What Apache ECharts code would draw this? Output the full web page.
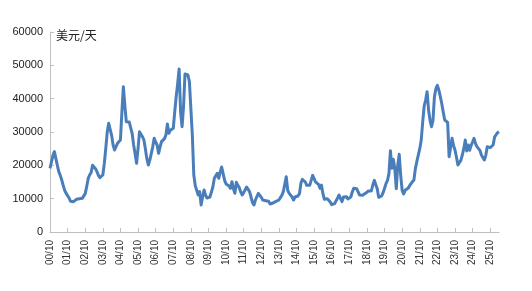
<!DOCTYPE html>
<html>
<head>
<meta charset="utf-8">
<script src="https://cdn.jsdelivr.net/npm/echarts@6/dist/echarts.min.js"></script>
<style>
html,body{margin:0;padding:0;background:#fff;}
#chart{width:532px;height:291px;}
</style>
</head>
<body>
<div id="chart"></div>
<script>
// Tick labels (year/month), one per October
var tickLabels = ['00/10','01/10','02/10','03/10','04/10','05/10','06/10','07/10','08/10','09/10','10/10','11/10','12/10','13/10','14/10','15/10','16/10','17/10','18/10','19/10','20/10','21/10','22/10','23/10','24/10','25/10'];
var unitLabel = '美元/天';
// Monthly rates, Oct 2000 .. Apr 2026 (USD/day), each row Oct..Sep
var rates = [
 19100,21000,23000,24100,22000,20000,18100,17000,15600,14000,12500,11600,
 11100,10200,9200,9100,9100,9400,9800,9900,10000,10000,10100,10100,
 11500,13600,16000,17100,17800,20000,20200,19000,18100,17000,16300,16500,
 17100,20500,25000,30000,32600,32900,29000,26100,24600,24300,26600,27000,
 27600,36000,43600,38000,33100,33000,33000,32900,29500,26100,23500,20600,
 25000,30100,29500,28600,27600,25000,22000,20100,21500,23500,25500,28100,
 27000,26100,23600,25500,27100,26600,28000,29100,32400,29600,30500,30900,
 31100,36000,40600,44500,48900,36000,31600,37600,47400,47400,47100,45100,
 37000,29100,17100,13900,14100,11100,12100,8100,10500,12600,11000,10200,
 9900,10500,11100,13500,16100,16500,17600,16100,18000,19500,17500,15500,
 14400,14100,13800,13100,15100,13000,11600,14900,14000,13300,12000,11100,
 11800,12100,13500,13200,12100,10500,8800,8100,9600,10600,11600,11000,
 10400,9600,9100,9400,9900,9200,8400,7900,8700,9300,9200,9100,
 9600,9800,11000,12100,12600,16600,12500,11600,12100,10500,9600,10500,
 11100,10800,11500,14600,15800,15200,15000,14000,13700,14000,14300,17000,
 17000,15000,14500,14300,13100,14100,11500,9800,9900,10000,9400,9000,
 8200,7600,8500,9400,10200,11100,10000,9100,10500,11100,10600,9900,
 10000,10500,12000,13100,13500,13000,12000,11100,11000,11000,11300,11600,
 12000,12300,12300,12300,14100,15500,16100,13000,10400,10500,10800,11800,
 13100,14500,15500,17500,24400,19100,21800,19000,13000,20100,23300,17000,
 12500,11400,12500,13100,13100,13100,14500,15100,15600,19000,21100,21600,
 25000,27600,33000,37800,39600,42100,36600,33500,31600,33500,40600,43000,
 44000,42600,40600,38500,36000,33600,33000,32900,22600,22700,28100,26000,
 24600,22500,20100,20000,21500,23100,25000,27600,24300,26100,24500,26000,
 27000,28100,26500,25600,25300,24500,23100,22500,21600,23000,25600,25400,
 25300,25800,26100,28500,29100,29800,30100
];
var yTicks = [0,10000,20000,30000,40000,50000,60000];

// month categories: label month index i -> "YY/MM"
var categories = [];
for (var i = 0; i < rates.length; i++) {
  var mm = (10 + i - 1) % 12 + 1;
  var yy = 2000 + Math.floor((10 + i - 1) / 12);
  categories.push(String(yy % 100).padStart(2,'0') + '/' + String(mm).padStart(2,'0'));
}

var chart = echarts.init(document.getElementById('chart'), null, {renderer:'canvas'});
var isTick = function(idx){ return idx % 12 === 0; };
chart.setOption({
  animation:false,
  backgroundColor:'#ffffff',
  grid:{left:50,right:33,top:32,bottom:59,containLabel:false},
  xAxis:{
    type:'category',
    data:categories,
    boundaryGap:false,
    axisLine:{show:true,lineStyle:{color:'#bfbfbf',width:1}},
    axisTick:{show:true,inside:true,length:4,interval:function(idx){return isTick(idx);},lineStyle:{color:'#bfbfbf'}},
    axisLabel:{
      interval:function(idx){return isTick(idx);},
      rotate:90,margin:8,
      fontSize:10,color:'#333',fontFamily:'Liberation Sans, Arial, sans-serif',
      formatter:function(v,idx){return tickLabels[idx/12];}
    },
    splitLine:{show:false}
  },
  yAxis:{
    type:'value',
    min:yTicks[0],max:yTicks[yTicks.length-1],interval:10000,
    axisLine:{show:true,lineStyle:{color:'#bfbfbf',width:1}},
    axisTick:{show:true,inside:true,length:4,lineStyle:{color:'#bfbfbf'}},
    axisLabel:{fontSize:11,color:'#222',margin:7,fontFamily:'Liberation Sans, Arial, sans-serif',
      formatter:function(v){return String(v);}},
    splitLine:{show:false}
  },
  graphic:[{
    type:'text',left:56,top:29,
    style:{text:unitLabel,fontSize:12,fill:'#222',fontFamily:'Noto Sans CJK SC, sans-serif'}
  }],
  series:[{
    type:'line',
    data:rates,
    showSymbol:false,
    symbol:'none',
    lineStyle:{color:'#4a7ebb',width:3,join:'round'},
    itemStyle:{color:'#4a7ebb'}
  }]
});
</script>
</body>
</html>
